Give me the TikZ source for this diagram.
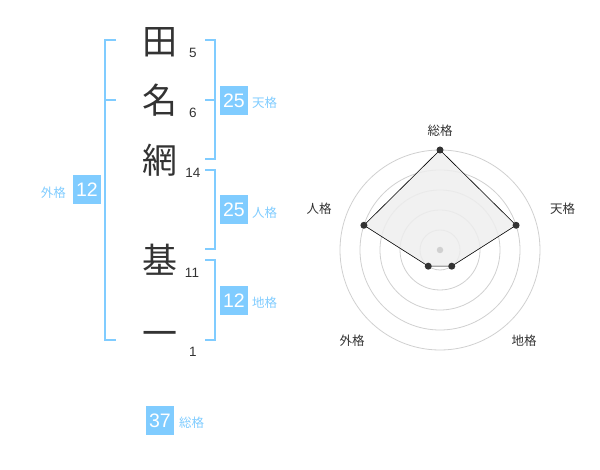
\documentclass[tikz,border=0pt]{standalone}
\usepackage{fontspec}
\setmainfont{Liberation Sans}
\newfontfamily\jp{Noto Sans CJK JP}
\definecolor{accent}{RGB}{128,204,255}
\definecolor{ink}{RGB}{51,51,51}
\definecolor{ring}{RGB}{208,208,208}
\definecolor{area}{RGB}{238,238,238}
\tikzset{
  kanji/.style={inner sep=0pt, text=ink, font=\jp\fontsize{35}{35}\selectfont},
  strokes/.style={inner sep=0pt, text=ink, font=\fontsize{13.5}{13.5}\selectfont},
  scorebox/.style={fill=accent, text=white, inner sep=0pt, minimum width=28pt, minimum height=29pt, font=\fontsize{19.5}{19.5}\selectfont},
  scorelabel/.style={inner sep=0pt, text=accent, font=\jp\fontsize{12.5}{12.5}\selectfont},
  bracket/.style={draw=accent, line width=2pt},
  axislabel/.style={inner sep=0pt, text=ink, font=\jp\fontsize{12.5}{12.5}\selectfont},
  ringline/.style={draw=ring, line width=0.8pt},
  dot/.style={circle, fill=ink, inner sep=0pt, minimum size=7pt},
}
\begin{document}
\begin{tikzpicture}[x=1pt,y=-1pt]
\useasboundingbox (0,0) rectangle (600,470);
% name characters
\node[kanji] (c1) at (160,42) {田};
\node[kanji] (c2) at (160,100) {名};
\node[kanji] (c3) at (160,160) {網};
\node[kanji] (c4) at (160,260) {基};
\node[kanji] (c5) at (160,339) {一};
% stroke counts
\node[strokes] (s1) at (193,53) {5};
\node[strokes] (s2) at (193,113) {6};
\node[strokes] (s3) at (193,173) {14};
\node[strokes] (s4) at (192,273) {11};
\node[strokes] (s5) at (193,352) {1};
% brackets
\draw[bracket] (205,40) -- (215,40) -- (215,159) -- (205,159);
\draw[bracket] (205,100) -- (215,100);
\draw[bracket] (205,170) -- (215,170) -- (215,249) -- (205,249);
\draw[bracket] (205,260) -- (215,260) -- (215,340) -- (205,340);
\draw[bracket] (116,40) -- (105,40) -- (105,340) -- (116,340);
\draw[bracket] (105,100) -- (116,100);
% score boxes
\node[scorebox] (ten) at (234,100.5) {25};
\node[scorelabel, anchor=west] (tenl) at (252,103) {天格};
\node[scorebox] (jin) at (234,210) {25};
\node[scorelabel, anchor=west] (jinl) at (252,213) {人格};
\node[scorebox] (chi) at (234,300.5) {12};
\node[scorelabel, anchor=west] (chil) at (252,303) {地格};
\node[scorebox] (gai) at (87,190) {12};
\node[scorelabel, anchor=east] (gail) at (66,193) {外格};
\node[scorebox] (sou) at (160,420.5) {37};
\node[scorelabel, anchor=west] (soul) at (179,423) {総格};
% radar chart
\begin{scope}[shift={(440,250)}]
  \foreach \r in {20,40,60,80,100} \draw[ringline] (0,0) circle (\r);
  \coordinate (p1) at (-90:100);
  \coordinate (p2) at (-18:80);
  \coordinate (p3) at (54:20);
  \coordinate (p4) at (126:20);
  \coordinate (p5) at (198:80);
  \draw[fill=area, draw=black, line width=0.6pt, fill opacity=0.85] (p1) -- (p2) -- (p3) -- (p4) -- (p5) -- cycle;
  \node[circle, fill=ring, inner sep=0pt, minimum size=6.5pt] (ctr) at (0,0) {};
  \foreach \p in {p1,p2,p3,p4,p5} \node[dot] at (\p) {};
\end{scope}
\node[axislabel] (a1) at (440,131) {総格};
\node[axislabel] (a2) at (562.5,209) {天格};
\node[axislabel] (a3) at (524,341) {地格};
\node[axislabel] (a4) at (352,341) {外格};
\node[axislabel] (a5) at (319,209) {人格};
\end{tikzpicture}
\end{document}
